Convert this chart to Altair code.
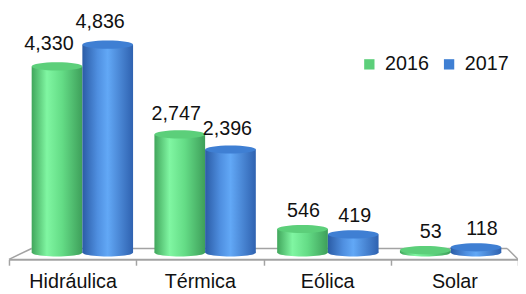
import altair as alt
import pandas as pd

categories = ["Hidráulica", "Térmica", "Eólica", "Solar"]
years = ["2016", "2017"]
values_2016 = [4330, 2747, 546, 53]
values_2017 = [4836, 2396, 419, 118]

rows = []
for c, a, b in zip(categories, values_2016, values_2017):
    rows.append({"category": c, "year": "2016", "value": a})
    rows.append({"category": c, "year": "2017", "value": b})
df = pd.DataFrame(rows)

FONT = "Liberation Sans"
ELLIPSE = "M-1,0A1,0.16,0,1,0,1,0A1,0.16,0,1,0,-1,0Z"
YMAX = 5638

grad = {
    "2016": alt.Gradient(gradient="linear", x1=0, x2=1, y1=0, y2=0, stops=[
        alt.GradientStop(color="#41a65c", offset=0),
        alt.GradientStop(color="#80f6a2", offset=0.3),
        alt.GradientStop(color="#64dc86", offset=0.6),
        alt.GradientStop(color="#3e9f5a", offset=1)]),
    "2017": alt.Gradient(gradient="linear", x1=0, x2=1, y1=0, y2=0, stops=[
        alt.GradientStop(color="#2b5ca6", offset=0),
        alt.GradientStop(color="#4f8fe0", offset=0.3),
        alt.GradientStop(color="#62a8f6", offset=0.5),
        alt.GradientStop(color="#2f62b0", offset=1)]),
}

def bar_x():
    return alt.X("category:N", sort=categories,
                 scale=alt.Scale(type="band", range=[12.2, 510.9], paddingInner=0.174, paddingOuter=0.087),
                 axis=None)

def bar_off():
    return alt.XOffset("year:N", scale=alt.Scale(type="band", domain=years, paddingInner=0, paddingOuter=0))

yscale = alt.Scale(domain=[0, YMAX])
yq = alt.Y("value:Q", scale=yscale, axis=None)

base = alt.Chart(df)
one = alt.Chart(pd.DataFrame({"a": [0]}))
FLOOR = "#a3a3a3"
floor = alt.layer(
    one.mark_rule(color=FLOOR, strokeWidth=1.5).encode(x=alt.value(23), x2=alt.value(506), y=alt.value(242), y2=alt.value(242)),
    one.mark_rule(color=FLOOR, strokeWidth=1.5).encode(x=alt.value(0), x2=alt.value(23), y=alt.value(253), y2=alt.value(242)),
    one.mark_rule(color=FLOOR, strokeWidth=1.5).encode(x=alt.value(517), x2=alt.value(506), y=alt.value(253), y2=alt.value(242)),
)

layers = [floor]
for yr in years:
    sub = base.transform_filter(alt.datum.year == yr)
    bottom = sub.mark_point(shape=ELLIPSE, filled=True, opacity=1, size=2652, color=grad[yr], strokeWidth=0).encode(
        x=bar_x(), xOffset=bar_off(), y=alt.datum(0, scale=yscale, axis=None))
    bar = sub.mark_bar(color=grad[yr], strokeWidth=0).encode(x=bar_x(), xOffset=bar_off(), y=yq)
    layers += [bottom, bar]

tops = base.mark_point(shape=ELLIPSE, filled=True, opacity=1, size=2652, strokeWidth=0).encode(
    x=bar_x(), xOffset=bar_off(), y=yq,
    color=alt.Color("year:N", scale=alt.Scale(domain=years, range=["#5ccf7a", "#3f7fd3"]),
                    legend=alt.Legend(orient="none", legendX=356, legendY=45, direction="horizontal",
                                      title=None, symbolType="square", symbolSize=110,
                                      labelFontSize=20, labelFont=FONT, labelColor="#111",
                                      labelOffset=6, columnPadding=10, symbolStrokeWidth=0)))
layers.append(tops)

labels = base.transform_calculate(ly="datum.value * 1.025").mark_text(
    font=FONT, fontSize=20, color="#111", baseline="alphabetic", dy=-12, dx=2).encode(
    x=alt.X("category:N", sort=categories, title=None,
            scale=alt.Scale(type="band", paddingInner=0, paddingOuter=0),
            axis=alt.Axis(orient="bottom", offset=7, domainColor=FLOOR, domainWidth=2,
                          ticks=True, tickColor=FLOOR, tickWidth=1.5, tickSize=6, tickBand="extent",
                          labelFont=FONT, labelFontSize=20, labelColor="#111", labelAngle=0,
                          labelBaseline="alphabetic", labelPadding=23, grid=False)),
    xOffset=alt.XOffset("year:N", scale=alt.Scale(type="band", domain=years, paddingInner=0, paddingOuter=0.243)),
    y=alt.Y("ly:Q", scale=yscale, axis=None),
    text=alt.Text("value:Q", format=","))
layers.append(labels)

chart = alt.layer(*layers).resolve_scale(x="independent", xOffset="independent").properties(
    width=517, height=246,
    padding={"left": 1, "top": 0, "right": 0, "bottom": 40},
    autosize=alt.AutoSizeParams(type="none"),
).configure_view(stroke=None)

chart.save("out.html", embed_options={"renderer": "svg", "actions": False})
